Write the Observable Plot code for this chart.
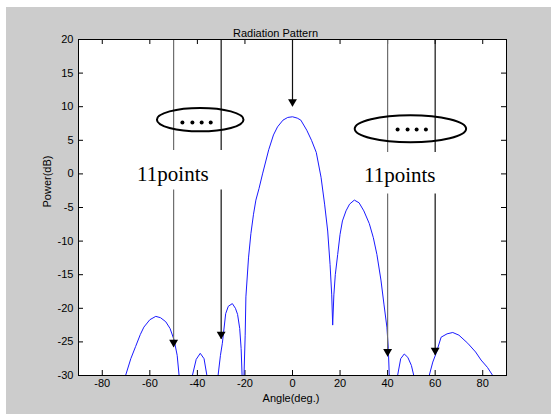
<!DOCTYPE html>
<html>
<head>
<meta charset="utf-8">
<script src="https://cdn.jsdelivr.net/npm/d3@7"></script>
<script src="https://cdn.jsdelivr.net/npm/@observablehq/plot@0.6"></script>
<style>
  html, body { margin: 0; padding: 0; background: #ffffff; }
  #chart svg { display: block; }
</style>
</head>
<body>
<div id="chart"></div>
<script>
// Radiation pattern (angle in degrees, power in dB); nulls dip below -30 and are clipped
const angle = [
  -71, -70.2, -68, -66, -64, -62.5, -60, -57.5, -55.5, -53.3, -51.5, -49.8, -48.5, -47.7, -46,
  -44, -42.1, -40.5, -38.8, -37.2, -36, -34.5,
  -32.5, -31.3, -30.3, -29.5, -28.1, -27.0, -25.3, -24.0, -23.1, -22.2, -21.6, -21.2, -20.8,
  -20.4, -19.9, -19.6, -18.5, -17.5, -16.4, -15.4, -14.1, -12.6, -10, -8, -6.3, -4, -2, 0,
  2, 3.5, 6, 8, 10, 12, 13.5, 14.8, 15.8, 16.5, 16.9,
  17.4, 18, 19, 20, 21, 22.5, 24, 26, 28, 30, 32.3, 34, 35.5, 37.2, 38.5, 39.7, 40.3, 40.7, 42.5,
  44.2, 45.5, 47, 48.5, 50, 51, 54,
  57.5, 59, 60.4, 62.5, 65, 67.4, 70, 73.7, 77, 79.3, 82, 84.2, 86
];
const power = [
  -32, -30, -27.5, -25.7, -23.9, -22.8, -21.7, -21.2, -21.4, -22.0, -23.0, -24.7, -27, -30, -40,
  -40, -30, -27.6, -26.7, -27.5, -30, -38,
  -40, -30, -27, -25.2, -20.8, -19.7, -19.3, -20.0, -20.9, -23, -26, -30, -40,
  -30, -24, -18.3, -12.5, -8.9, -6.0, -3.9, -2.2, 0, 3.6, 5.8, 7.0, 8.0, 8.4, 8.5,
  8.3, 8.0, 6.5, 5.0, 3.2, -0.5, -4.5, -8.5, -13.5, -18, -22.5,
  -18, -15, -12, -9, -7, -5.5, -4.5, -3.9, -4.3, -5.5, -7.4, -9.5, -12, -15.8, -19.5, -22.8, -26, -30, -40,
  -30, -27.5, -26.8, -27.3, -28.5, -30, -40,
  -30, -28, -26.7, -24.3, -23.8, -23.6, -24.0, -25.2, -26.5, -27.7, -28.8, -30, -31.5
];

const xTicks = [-80, -60, -40, -20, 0, 20, 40, 60, 80];
const yTicks = [-30, -25, -20, -15, -10, -5, 0, 5, 10, 15, 20];

// annotation arrows (angle, tip power)
const arrowAngle = [-50, -30, 0, 40, 60];
const arrowTip = [-25.8, -24.6, 10.0, -27.2, -27.0];
// labels "11points"
const labelText = ["11points", "11points"];
const labelAngle = [-50.3, 45.1];
const labelPower = [0, -0.2];
// dots inside ellipses
const dotAngle = [-46.3, -42.1, -38.2, -34.4, 44.2, 48.4, 52.2, 56.1];
const dotPower = [7.65, 7.65, 7.65, 7.65, 6.6, 6.6, 6.6, 6.6];
// ellipse centres
const ellAngle = [-38.6, 49.8];
const ellPower = [8.0, 6.65];

const curve = angle.map((a, i) => ({a, p: power[i]}));
const arrows = arrowAngle.map((a, i) => ({a, tip: arrowTip[i], i}));
// line segments: gap where the "11points" text sits (left pair / right pair)
const segs = [];
arrows.forEach(d => {
  if (d.a === 0) { segs.push({a: d.a, y1: 20, y2: d.tip, i: d.i}); return; }
  const left = d.a < 0;
  segs.push({a: d.a, y1: 20, y2: left ? 3.5 : 3.2, i: d.i});
  segs.push({a: d.a, y1: left ? -2.4 : -3.0, y2: d.tip, i: d.i});
});
const grayIdx = new Set([0, 3]);
const labels = labelText.map((t, i) => ({t, a: labelAngle[i], p: labelPower[i]}));
const dots = dotAngle.map((a, i) => ({a, p: dotPower[i]}));

const W = 551, H = 414;
const mL = 78, mR = 45, mT = 39, mB = 39;
const fw = W - mL - mR, fh = H - mT - mB;

const plot = Plot.plot({
  width: W, height: H,
  marginLeft: mL, marginRight: mR, marginTop: mT, marginBottom: mB,
  style: {
    background: "#cccccc",
    boxShadow: "inset 6px 7px 0 #ffffff",
    fontFamily: "'Liberation Sans', Arial, sans-serif",
    fontSize: "11px",
    color: "black"
  },
  x: {domain: [-90, 90]},
  y: {domain: [-30, 20]},
  marks: [
    Plot.frame({fill: "white", stroke: null}),
    // tick labels
    Plot.axisX(xTicks, {anchor: "bottom", tickSize: 0, tickPadding: 4, tickFormat: d => String(d), label: null, fontSize: 11}),
    Plot.axisY(yTicks, {anchor: "left", tickSize: 0, tickPadding: 5, tickFormat: d => String(d), label: null, fontSize: 11}),
    // inward ticks on all four sides
    Plot.ruleX(xTicks, {x: d => d, insetTop: fh - 5, stroke: "black"}),
    Plot.ruleX(xTicks, {x: d => d, insetBottom: fh - 5, stroke: "black"}),
    Plot.ruleY(yTicks, {y: d => d, insetRight: fw - 5, stroke: "black"}),
    Plot.ruleY(yTicks, {y: d => d, insetLeft: fw - 5, stroke: "black"}),
    // curve
    Plot.line(curve, {x: "a", y: "p", stroke: "#1a1aff", strokeWidth: 1, clip: true}),
    // arrows
    Plot.ruleX(segs, {x: "a", y1: "y1", y2: "y2", stroke: d => grayIdx.has(d.i) ? "#6e6e6e" : "#111111", strokeWidth: 1.2}),
    Plot.dot(arrows, {x: "a", y: "tip", symbol: "triangle", rotate: 180, r: 3.3, dy: -5, fill: "black", stroke: null}),
    // dots
    Plot.dot(dots, {x: "a", y: "p", r: 2, fill: "black", stroke: null}),
    // labels
    Plot.text(labels, {x: "a", y: "p", text: "t", fontFamily: "'Liberation Serif', 'Times New Roman', serif", fontSize: 21, fill: "black"}),
    // title and axis labels
    Plot.text(["Radiation Pattern"], {text: d => d, frameAnchor: "top", dy: -10, dx: -17, fontSize: 11}),
    Plot.text(["Angle(deg.)"], {text: d => d, frameAnchor: "bottom", dy: 26, dx: -1.5, fontSize: 11}),
    Plot.text(["Power(dB)"], {text: d => d, frameAnchor: "left", dx: -31, rotate: -90, fontSize: 11}),
    Plot.frame({stroke: "black", strokeWidth: 1})
  ]
});

// ellipses around the dots, placed with the plot's own scales
const sx = plot.scale("x"), sy = plot.scale("y");
const ellR = [[43.3, 11.7], [55.7, 13.5]];
const svg = d3.select(plot);
ellAngle.forEach((a, i) => {
  svg.append("ellipse")
    .attr("cx", sx.apply(a))
    .attr("cy", sy.apply(ellPower[i]))
    .attr("rx", ellR[i][0])
    .attr("ry", ellR[i][1])
    .attr("fill", "none")
    .attr("stroke", "black")
    .attr("stroke-width", 2);
});

document.getElementById("chart").appendChild(plot);
</script>
</body>
</html>
